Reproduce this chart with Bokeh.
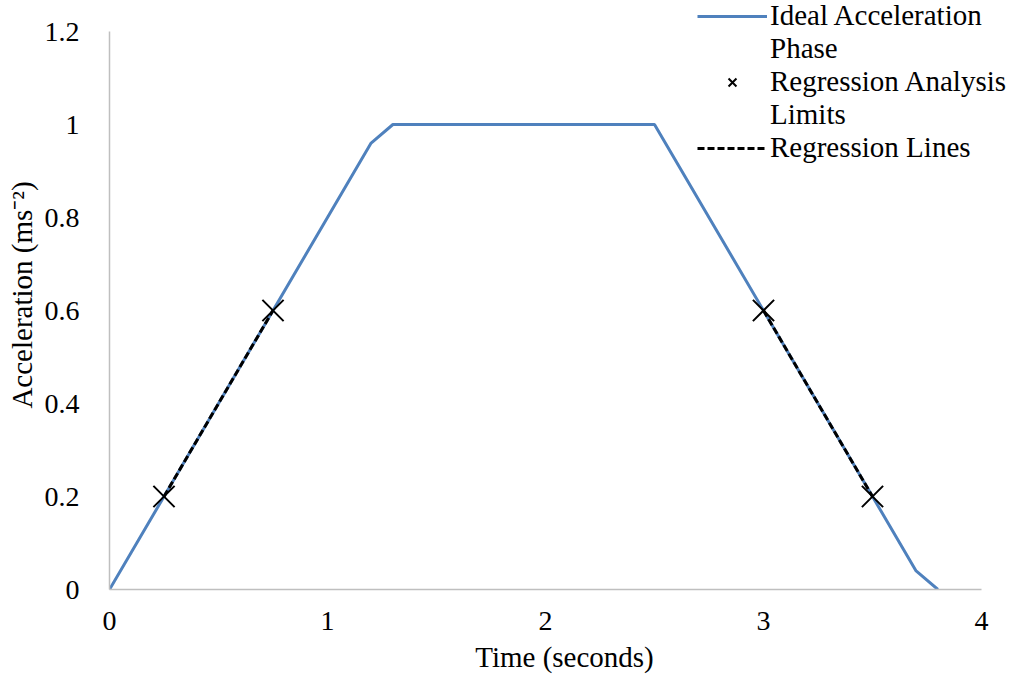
from bokeh.plotting import figure
from bokeh.models import Range1d, FixedTicker, Legend, LegendItem
from bokeh.embed import file_html
from bokeh.resources import INLINE

# Data
time_s = [0.0, 1.2, 1.3, 2.5, 3.7, 3.8]
accel = [0.0, 0.96, 1.0, 1.0, 0.04, 0.0]
limit_t = [0.25, 0.75, 3.0, 3.5]
limit_a = [0.2, 0.6, 0.6, 0.2]
reg1_t = [0.25, 0.75]
reg1_a = [0.2, 0.6]
reg2_t = [3.0, 3.5]
reg2_a = [0.6, 0.2]
x_ticks = [0, 1, 2, 3, 4]
y_ticks = [0, 0.2, 0.4, 0.6, 0.8, 1.0, 1.2]
y_labels = {0: "0", 0.2: "0.2", 0.4: "0.4", 0.6: "0.6", 0.8: "0.8", 1.0: "1", 1.2: "1.2"}
x_min, x_max = 0, 4
y_min, y_max = 0, 1.2

FONT = "Liberation Serif"
TICK_FS = "28px"
TEXT_FS = "29px"

# Frame extends to the right and top page edges so the legend is not clipped;
# the axis lines are bounded to the real data extents.
AX_LEFT, AX_RIGHT, AX_TOP, AX_BOTTOM = 109, 981, 31, 589
W, H = 1019, 675
x_end = x_max * (W - AX_LEFT) / (AX_RIGHT - AX_LEFT)
y_end = y_max * AX_BOTTOM / (AX_BOTTOM - AX_TOP)

p = figure(width=W, height=H, output_backend="svg", toolbar_location=None,
           x_range=Range1d(x_min, x_end), y_range=Range1d(y_min, y_end),
           min_border_left=AX_LEFT, min_border_right=0, min_border_top=0,
           min_border_bottom=H - AX_BOTTOM)
p.outline_line_color = None
p.xgrid.visible = False
p.ygrid.visible = False

r_line = p.line(time_s, accel, line_color="#4f81bd", line_width=3)
r_reg1 = p.line(reg1_t, reg1_a, line_color="black", line_width=3, line_dash="7 3")
p.line(reg2_t, reg2_a, line_color="black", line_width=3, line_dash="7 3")
r_mark = p.scatter(limit_t, limit_a, marker="x", size=30, line_color="black", line_width=2)
# invisible renderer used only for the wrapped second lines in the legend
r_blank = p.line([0], [0], line_alpha=0)

for ax in (p.xaxis[0], p.yaxis[0]):
    ax.axis_line_color = "#bfbfbf"
    ax.axis_line_width = 1.5
    ax.major_tick_line_color = None
    ax.minor_tick_line_color = None
    ax.major_label_text_font = FONT
    ax.major_label_text_font_size = TICK_FS
    ax.major_label_text_color = "black"
    ax.axis_label_text_font = FONT
    ax.axis_label_text_font_size = TEXT_FS
    ax.axis_label_text_font_style = "normal"
    ax.axis_label_text_color = "black"
    ax.axis_label_text_line_height = 1.0
    ax.major_label_text_line_height = 1.0

p.xaxis.bounds = (x_min, x_max)
p.yaxis.bounds = (y_min, y_max)
p.xaxis.ticker = FixedTicker(ticks=x_ticks)
p.yaxis.ticker = FixedTicker(ticks=y_ticks)
p.yaxis.major_label_overrides = y_labels
p.xaxis.major_label_standoff = 16
p.yaxis.major_label_standoff = 24
p.xaxis.axis_label = "Time (seconds)"
p.yaxis.axis_label = "Acceleration (ms\u207b\u00b2)"
p.xaxis.axis_label_standoff = 8
p.yaxis.axis_label_standoff = 4

legend = Legend(items=[
    LegendItem(label="Ideal Acceleration", renderers=[r_line]),
    LegendItem(label="Phase", renderers=[r_blank]),
    LegendItem(label="Regression Analysis", renderers=[r_mark]),
    LegendItem(label="Limits", renderers=[r_blank]),
    LegendItem(label="Regression Lines", renderers=[r_reg1]),
], location=(588, 425))
legend.label_text_font = FONT
legend.label_text_font_size = TEXT_FS
legend.label_text_color = "black"
legend.label_text_line_height = 1.0
legend.background_fill_alpha = 0
legend.border_line_color = None
legend.glyph_width = 70
legend.glyph_height = 28
legend.label_height = 28
legend.label_standoff = 3
legend.spacing = 0
legend.padding = 0
legend.margin = 0
p.add_layout(legend)

open("out.html", "w").write(file_html(p, INLINE))
